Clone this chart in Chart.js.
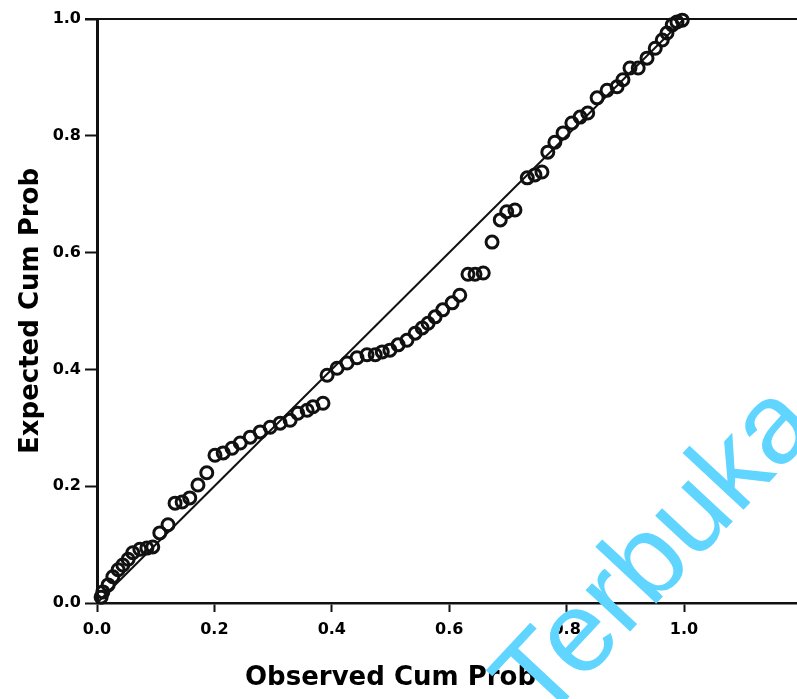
<!DOCTYPE html>
<html>
<head>
<meta charset="utf-8">
<script src="https://cdn.jsdelivr.net/npm/chart.js@4/dist/chart.umd.min.js"></script>
<style>
  html, body { margin: 0; padding: 0; background: #fff; }
</style>
</head>
<body>
<canvas id="ppChart" width="797" height="699"></canvas>
<script>
// observed vs expected cumulative probabilities
const observed = [0.007, 0.010, 0.019, 0.027, 0.036, 0.044, 0.053, 0.061, 0.073, 0.085,
  0.095, 0.107, 0.121, 0.133, 0.145, 0.158, 0.172, 0.187, 0.201, 0.215,
  0.230, 0.244, 0.261, 0.278, 0.295, 0.312, 0.329, 0.342, 0.358, 0.368,
  0.385, 0.392, 0.409, 0.426, 0.443, 0.460, 0.474, 0.486, 0.499, 0.513,
  0.528, 0.542, 0.554, 0.564, 0.576, 0.589, 0.605, 0.618, 0.632, 0.644,
  0.658, 0.673, 0.687, 0.698, 0.712, 0.733, 0.746, 0.758, 0.768, 0.780,
  0.794, 0.809, 0.823, 0.836, 0.852, 0.869, 0.886, 0.896, 0.908, 0.922,
  0.937, 0.951, 0.963, 0.971, 0.980, 0.988, 0.997];
const expected = [0.010, 0.019, 0.031, 0.045, 0.057, 0.065, 0.075, 0.086, 0.092, 0.094,
  0.096, 0.120, 0.134, 0.171, 0.173, 0.180, 0.202, 0.223, 0.253, 0.257,
  0.265, 0.274, 0.284, 0.293, 0.301, 0.308, 0.313, 0.325, 0.330, 0.336,
  0.342, 0.390, 0.402, 0.411, 0.420, 0.425, 0.425, 0.430, 0.433, 0.442,
  0.450, 0.462, 0.471, 0.479, 0.490, 0.502, 0.514, 0.527, 0.563, 0.563,
  0.565, 0.618, 0.656, 0.670, 0.673, 0.728, 0.733, 0.738, 0.772, 0.789,
  0.805, 0.822, 0.832, 0.839, 0.865, 0.878, 0.884, 0.896, 0.916, 0.916,
  0.933, 0.950, 0.964, 0.976, 0.990, 0.995, 0.998];

// reference diagonal
const refX = [0, 1];
const refY = [0, 1];

const tickValues = [0, 0.2, 0.4, 0.6, 0.8, 1.0];
const xTitle = "Observed Cum Prob";
const yTitle = "Expected Cum Prob";
const watermark = "Terbuka";

const points = observed.map((x, i) => ({x: x, y: expected[i]}));
const refLine = refX.map((x, i) => ({x: x, y: refY[i]}));

const keepTicks = (scale) => {
  scale.ticks = tickValues.map(v => ({value: v}));
};

const extras = {
  id: "extras",
  afterDraw(chart) {
    const ctx = chart.ctx;
    const a = chart.chartArea;
    const xs = chart.scales.x;
    ctx.save();
    // top frame line
    ctx.strokeStyle = "#111";
    ctx.lineWidth = 2;
    ctx.beginPath();
    ctx.moveTo(a.left - 12, a.top);
    ctx.lineTo(chart.width, a.top);
    ctx.stroke();

    // axis titles
    ctx.fillStyle = "#000";
    ctx.font = "bold 26px 'DejaVu Sans'";
    ctx.textAlign = "center";
    ctx.textBaseline = "middle";
    ctx.fillText(xTitle, xs.getPixelForValue(0.5), 678);
    ctx.save();
    ctx.translate(31, (a.top + a.bottom) / 2);
    ctx.rotate(-Math.PI / 2);
    ctx.fillText(yTitle, 0, 0);
    ctx.restore();

    // watermark
    ctx.translate(542, 726);
    ctx.rotate(-47 * Math.PI / 180);
    ctx.fillStyle = "rgb(95,213,255)";
    ctx.font = "115px 'Liberation Sans'";
    ctx.textAlign = "left";
    ctx.textBaseline = "alphabetic";
    ctx.fillText(watermark, 0, 0);
    ctx.restore();
  }
};

const tickFont = {family: "'DejaVu Sans'", size: 16, weight: "bold"};

new Chart("ppChart", {
  type: "scatter",
  data: {
    datasets: [
      {
        data: refLine,
        showLine: true,
        borderColor: "#111",
        borderWidth: 2,
        pointRadius: 0
      },
      {
        data: points,
        pointRadius: 6,
        pointBorderWidth: 3,
        pointBorderColor: "#111",
        pointBackgroundColor: "rgba(255,255,255,0)",
        clip: 10
      }
    ]
  },
  options: {
    responsive: false,
    animation: false,
    layout: {autoPadding: false, padding: {top: 19, right: 0, bottom: 0, left: 0}},
    plugins: {legend: {display: false}, tooltip: {enabled: false}},
    scales: {
      x: {
        type: "linear",
        min: 0,
        max: 1.1925,
        afterBuildTicks: keepTicks,
        afterFit: (s) => { s.height = 96; },
        border: {color: "#111", width: 2.5},
        grid: {drawOnChartArea: false, color: "#111", tickLength: 9, tickWidth: 2},
        ticks: {
          color: "#000",
          font: tickFont,
          padding: 8,
          maxRotation: 0,
          callback: (v) => Number(v).toFixed(1)
        }
      },
      y: {
        type: "linear",
        min: 0,
        max: 1,
        afterBuildTicks: keepTicks,
        afterFit: (s) => { s.width = 97; },
        border: {color: "#111", width: 3},
        grid: {drawOnChartArea: false, color: "#111", tickLength: 12, tickWidth: 2},
        ticks: {
          color: "#000",
          font: tickFont,
          padding: 4,
          callback: (v) => Number(v).toFixed(1)
        }
      }
    }
  },
  plugins: [extras]
});
</script>
</body>
</html>
